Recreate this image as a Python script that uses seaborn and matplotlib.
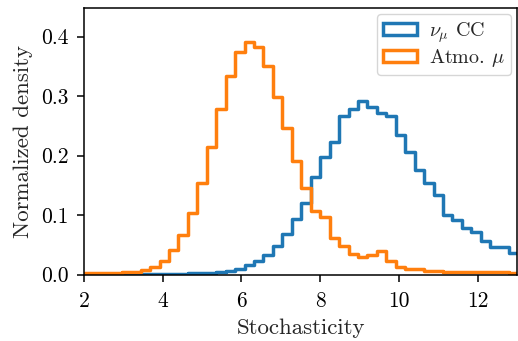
import numpy as np
import pandas as pd
import matplotlib
matplotlib.use("Agg")
import matplotlib.pyplot as plt
from matplotlib.patches import Patch
import seaborn as sns

# ---- data ----
bin_start = 2.0
bin_width = 0.24
n_bins = 46

numu_cc = [0.000, 0.000, 0.000, 0.000, 0.000, 0.000, 0.001, 0.001, 0.001, 0.001,
           0.001, 0.002, 0.002, 0.003, 0.004, 0.0056, 0.009, 0.0157, 0.023, 0.0325,
           0.0476, 0.068, 0.0926, 0.1195, 0.164, 0.198, 0.222, 0.267, 0.278, 0.291,
           0.282, 0.271, 0.267, 0.235, 0.206, 0.175, 0.154, 0.134, 0.100, 0.092,
           0.079, 0.071, 0.056, 0.0455, 0.0455, 0.036]

atmo_mu = [0.002, 0.002, 0.002, 0.003, 0.004, 0.005, 0.007, 0.012, 0.022, 0.041,
           0.066, 0.103, 0.153, 0.215, 0.278, 0.333, 0.374, 0.391, 0.383, 0.351,
           0.299, 0.246, 0.191, 0.146, 0.106, 0.097, 0.062, 0.048, 0.035, 0.029,
           0.033, 0.040, 0.022, 0.012, 0.010, 0.009, 0.006, 0.0055, 0.005, 0.0045,
           0.0045, 0.004, 0.004, 0.0035, 0.0035, 0.003]

series_labels = [r"$\nu_\mu$ CC", r"Atmo. $\mu$"]
series_colors = ["#1f77b4", "#ff7f0e"]
x_ticks = [2, 4, 6, 8, 10, 12]
y_ticks = [0.0, 0.1, 0.2, 0.3, 0.4]
x_label = "Stochasticity"
y_label = "Normalized density"

# ---- style ----
sns.set_style("ticks")
plt.rcParams["font.family"] = "serif"
plt.rcParams["font.serif"] = ["cmr10", "DejaVu Serif"]
plt.rcParams["mathtext.fontset"] = "cm"
plt.rcParams["axes.formatter.use_mathtext"] = True
plt.rcParams["axes.unicode_minus"] = False
plt.rcParams["font.size"] = 15.5
plt.rcParams["axes.edgecolor"] = "black"
plt.rcParams["axes.linewidth"] = 1.1
plt.rcParams["xtick.color"] = "black"
plt.rcParams["ytick.color"] = "black"
plt.rcParams["xtick.major.size"] = 5
plt.rcParams["ytick.major.size"] = 5
plt.rcParams["xtick.major.width"] = 1.1
plt.rcParams["ytick.major.width"] = 1.1
plt.rcParams["xtick.major.pad"] = 7.5
plt.rcParams["ytick.major.pad"] = 6

edges = [float(e) for e in bin_start + bin_width * np.arange(n_bins + 1)]
centers = [0.5 * (a + b) for a, b in zip(edges[:-1], edges[1:])]

fig = plt.figure(figsize=(5.18, 3.41), dpi=100)
ax = fig.add_axes([84 / 518, 1 - 274.5 / 341, (517 - 84) / 518, (274.5 - 8) / 341])

lw = 2.5
for vals, col in zip([numu_cc, atmo_mu], series_colors):
    df = pd.DataFrame({"x": centers, "w": vals})
    sns.histplot(data=df, x="x", weights="w", bins=edges, element="step",
                 fill=False, color=col, linewidth=lw, ax=ax)

ax.set_xlim(2, 13)
ax.set_ylim(0, 0.448)
ax.set_xticks(x_ticks)
ax.set_yticks(y_ticks)
ax.set_xticklabels([str(t) for t in x_ticks])
ax.set_yticklabels([f"{t:.1f}" for t in y_ticks])
ax.set_xlabel(x_label, fontsize=16.5, labelpad=5)
ax.set_ylabel(y_label, fontsize=16.5, labelpad=6)
ax.tick_params(labelsize=15.5)
for s in ax.spines.values():
    s.set_visible(True)
    s.set_color("black")

handles = [Patch(facecolor="none", edgecolor=c, linewidth=lw, label=l)
           for c, l in zip(series_colors, series_labels)]
ax.legend(handles=handles, loc="upper right", fontsize=14.5, framealpha=0.8,
          borderaxespad=0.3, borderpad=0.3, labelspacing=0.12,
          handlelength=1.7, handleheight=0.5, handletextpad=0.6)

fig.savefig("out.png", dpi=100)
